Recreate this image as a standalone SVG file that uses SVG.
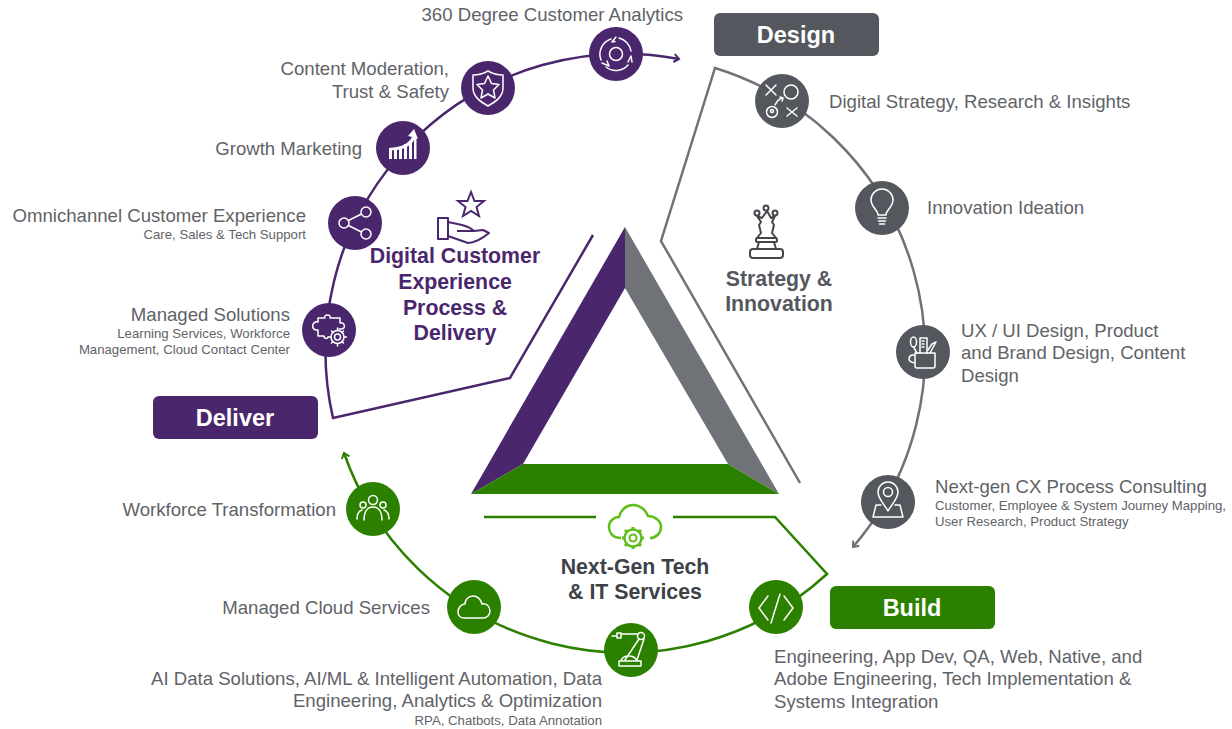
<svg xmlns="http://www.w3.org/2000/svg" width="1232" height="729" viewBox="0 0 1232 729">
<style>
text{font-family:"Liberation Sans",Arial,sans-serif;fill:#5f6368}
.l{font-size:18.6px}
.s{font-size:13.2px}
.e{text-anchor:end}
.m{text-anchor:middle}
.h{font-size:21.3px;font-weight:700}
.b{font-size:23.5px;font-weight:700;fill:#fff;text-anchor:middle}
.c{fill:none;stroke-width:2.5}
.i{fill:none;stroke:#fff;stroke-width:1.5;stroke-linejoin:round;stroke-linecap:round}
.pu{fill:#4a276d}.gr{fill:#54585e}.gn{fill:#2b8000}
</style>
<defs>
<marker id="ap" markerWidth="9" markerHeight="10" refX="7" refY="5" orient="auto" markerUnits="userSpaceOnUse"><path d="M2 1L7 5L2 9" fill="none" stroke="#4a276d" stroke-width="2"/></marker>
<marker id="ag" markerWidth="9" markerHeight="10" refX="7" refY="5" orient="auto" markerUnits="userSpaceOnUse"><path d="M2 1L7 5L2 9" fill="none" stroke="#6f7277" stroke-width="2"/></marker>
<marker id="an" markerWidth="9" markerHeight="10" refX="7" refY="5" orient="auto" markerUnits="userSpaceOnUse"><path d="M2 1L7 5L2 9" fill="none" stroke="#2b8000" stroke-width="2"/></marker>
</defs>
<g id="connectors">
<path class="c" stroke="#4a276d" marker-end="url(#ap)" d="M593 235L510 378L333 418A298 298 0 0 1 679 59"/>
<path class="c" stroke="#6f7277" marker-end="url(#ag)" d="M800 483L661 241L715 68A298 298 0 0 1 853 547"/>
<path class="c" stroke="#2b8000" d="M484 517H596"/>
<path class="c" stroke="#2b8000" marker-end="url(#an)" d="M673 517H775L827 574A298 298 0 0 1 344 453"/>
</g>
<g id="triangle">
<path fill="#4a276d" d="M625 227V288L523 464L471 494Z"/>
<path fill="#6f7277" d="M625 227V288L728 464L779 494Z"/>
<path fill="#2b8000" d="M523 464H728L779 494H471Z"/>
</g>
<g id="node-360">
<circle class="pu" cx="616" cy="54" r="27"/>
<g class="i" transform="translate(616 54)"><circle r="6.500"/><path d="M-5 -15A16 16 0 0 0 -15 6M-10 13A16 16 0 0 0 12 11M15 -3A16 16 0 0 0 3 -16"/><path d="M0 -17L-4 -12L-1 -12.500M-14 9L-7 12L-9 7M12 8L15 2L16 8"/></g>
<text class="l e" x="683" y="21">360 Degree Customer Analytics</text>
</g>
<g id="node-content">
<circle class="pu" cx="488" cy="88" r="27"/>
<g class="i" transform="translate(488 88)"><path d="M0 -17C5 -14 11 -13 15 -13V0C15 9 7 14 0 18C-7 14 -15 9 -15 0V-13C-11 -13 -5 -14 0 -17Z"/><path d="M0 -12L3.500 -4.500L11 -3.500L5.500 2L7 10L0 6L-7 10L-5.500 2L-11 -3.500L-3.500 -4.500Z"/></g>
<text class="l e" x="449" y="75">Content Moderation,</text>
<text class="l e" x="449" y="98">Trust &amp; Safety</text>
</g>
<g id="node-growth">
<circle class="pu" cx="403" cy="148" r="27"/>
<g transform="translate(403 148)" fill="#fff"><path d="M-14 11h3v-9h-3zM-9 11h3v-10h-3zM-4 11h3v-12h-3zM1 11h3v-15h-3zM6 11h3v-18h-3zM11 11h2.500v-22h-2.500z"/><path d="M-14 0C0 -1 6 -5 9 -11L5 -12L11 -19L15 -9L12 -10C9 -2 0 3 -14 2Z"/></g>
<text class="l e" x="362" y="155">Growth Marketing</text>
</g>
<g id="node-omni">
<circle class="pu" cx="355" cy="223" r="27"/>
<g class="i" transform="translate(355 223)"><circle cx="-11" cy="0" r="5"/><circle cx="11" cy="-11" r="5"/><circle cx="11" cy="11" r="5"/><path d="M-6.500 -2.500L6.500 -9M-6.500 2.500L6.500 9"/></g>
<text class="l e" x="306" y="222">Omnichannel Customer Experience</text>
<text class="s e" x="306" y="239">Care, Sales &amp; Tech Support</text>
</g>
<g id="node-managed">
<circle class="pu" cx="329" cy="330" r="27"/>
<g class="i" transform="translate(329 330)"><path d="M-11 -12H-4C-6 -16 3 -16 1 -12H11V-7C15 -9 18 -1 12 -1H10M-11 -12V-8C-17 -10 -19 1 -11 0V6H-5C-5 9 -1 9 -1 7"/><circle cx="8.500" cy="7" r="3"/><circle cx="8.500" cy="7" r="6.500"/><path d="M8.500 -2V.5M8.500 13.500V16M-.5 7H2M15 7H17.500M2.500 1L4 2.500M13 11.500L14.500 13M2.500 13L4 11.500M13 2.500L14.500 1"/></g>
<text class="l e" x="290" y="321">Managed Solutions</text>
<text class="s e" x="290" y="338">Learning Services, Workforce</text>
<text class="s e" x="290" y="354">Management, Cloud Contact Center</text>
</g>
<g id="label-digital">
<path d="M471 192L474.500 201L484 201L476.500 207L479 216L471 211L463 216L465.500 207L458 201L467.500 201Z" fill="none" stroke="#4a276d" stroke-width="2"/>
<path d="M438 218H448V239H438ZM448 222L462 225C469 227 472 229 474 231L483 230L489 233C483 238 474 243 468 243L448 236M457 231H474" fill="none" stroke="#4a276d" stroke-width="2" stroke-linejoin="round"/>
<text class="h m" style="fill:#4a276d" x="455" y="263">Digital Customer</text>
<text class="h m" style="fill:#4a276d" x="455" y="289">Experience</text>
<text class="h m" style="fill:#4a276d" x="455" y="315">Process &amp;</text>
<text class="h m" style="fill:#4a276d" x="455" y="340">Delivery</text>
</g>
<g id="deliver"><rect class="pu" x="153" y="396" width="165" height="43" rx="6"/><text class="b" x="235" y="426">Deliver</text></g>
<g id="design"><rect class="gr" x="714" y="13" width="165" height="43" rx="6"/><text class="b" x="796" y="43">Design</text></g>
<g id="build"><rect class="gn" x="830" y="586" width="165" height="43" rx="6"/><text class="b" x="912" y="616">Build</text></g>
<g id="node-strategy">
<circle class="gr" cx="782" cy="101" r="27"/>
<g class="i" transform="translate(782 101)"><path d="M-16 -16L-6 -6M-6 -16L-16 -6M5 7L15 15M15 7L5 15"/><circle cx="9" cy="-9" r="7"/><circle cx="-10" cy="11" r="5.500"/><circle cx="-10" cy="10" r="1.500"/><path d="M-7 4C-5 -1 -1 -3 1 -3M-2 -4L1 -3L0 0"/></g>
<text class="l" x="829" y="108">Digital Strategy, Research &amp; Insights</text>
</g>
<g id="node-innovation">
<circle class="gr" cx="882" cy="208" r="27"/>
<g class="i" transform="translate(882 208)"><path d="M-4 7C-4 2 -11 -1 -11 -8A11 11 0 0 1 11 -8C11 -1 4 2 4 7Z"/><path d="M-4 10H4M-3.500 13H3.500M-2.500 16H2.500"/></g>
<text class="l" x="927" y="214">Innovation Ideation</text>
</g>
<g id="node-ux">
<circle class="gr" cx="923" cy="352" r="27"/>
<g class="i" transform="translate(923 352)"><path d="M-8 1H12V14Q12 16 10 16H-6Q-8 16 -8 14ZM-8 3H-11Q-14 4 -14 7Q-14 10 -8 11"/><path d="M-3 1V-14H4V1M-1 -11H1M-1 -8H1M-1 -5H1"/><ellipse cx="-9.500" cy="-10" rx="3" ry="5"/><path d="M-9.500 -5L-6 1M7 1L13 -10L9 -8L5 -2"/></g>
<text class="l" x="961" y="337">UX / UI Design, Product</text>
<text class="l" x="961" y="359">and Brand Design, Content</text>
<text class="l" x="961" y="382">Design</text>
</g>
<g id="node-nextgen">
<circle class="gr" cx="888" cy="502" r="27"/>
<g class="i" transform="translate(888 502)"><path d="M0 9C-3 3 -10 -3 -10 -10A10 10 0 0 1 10 -10C10 -3 3 3 0 9Z"/><circle cy="-10" r="4.500"/><path d="M-7 3H-12L-15 15H15L12 3H7"/></g>
<text class="l" x="935" y="493">Next-gen CX Process Consulting</text>
<text class="s" x="935" y="510">Customer, Employee &amp; System Journey Mapping,</text>
<text class="s" x="935" y="526">User Research, Product Strategy</text>
</g>
<g id="node-code">
<circle class="gn" cx="776" cy="607" r="27"/>
<g class="i" transform="translate(776 607)"><path d="M-8 -11L-17 1L-8 13M8 -11L17 1L8 13M4 -13L-5 16"/></g>
<text class="l" x="774" y="663">Engineering, App Dev, QA, Web, Native, and</text>
<text class="l" x="774" y="685">Adobe Engineering, Tech Implementation &amp;</text>
<text class="l" x="774" y="708">Systems Integration</text>
</g>
<g id="node-robot">
<circle class="gn" cx="631" cy="650" r="27"/>
<g class="i" transform="translate(631 650)"><circle cx="10" cy="-14" r="3.500"/><path d="M7 -16H-10M-14 -14H-19M-14 -17H-10V-12H-14ZM8 -11L-6 10M13 -11L6 10M-12 16H10V11H-12ZM-10 11Q-9 6 -2 6Q4 6 6 11"/></g>
<text class="l e" x="602" y="685">AI Data Solutions, AI/ML &amp; Intelligent Automation, Data</text>
<text class="l e" x="602" y="707">Engineering, Analytics &amp; Optimization</text>
<text class="s e" x="602" y="725">RPA, Chatbots, Data Annotation</text>
</g>
<g id="node-cloud">
<circle class="gn" cx="474" cy="607" r="27"/>
<g class="i" transform="translate(474 607)"><path d="M-10 11H9C13 11 16 8 16 4C16 -1 12 -4 8 -3C7 -8 3 -11 -1 -11C-6 -11 -9 -7 -9 -3C-13 -3 -16 1 -16 5C-16 9 -13 11 -10 11Z"/></g>
<text class="l e" x="430" y="614">Managed Cloud Services</text>
</g>
<g id="node-workforce">
<circle class="gn" cx="373" cy="509" r="27"/>
<g class="i" transform="translate(373 509)"><circle cy="-9" r="4.500"/><circle cx="-10" cy="-4" r="3"/><circle cx="10" cy="-4" r="3"/><path d="M-9 11C-9 2 -5 -2 0 -2C5 -2 9 2 9 11M-16 10C-16 5 -14 2 -11 1M16 10C16 5 14 2 11 1"/></g>
<text class="l e" x="336" y="516">Workforce Transformation</text>
</g>
<g id="label-nextgen">
<path d="M621 538C612 538 609 532 609 527C609 521 614 517 619 517C621 509 627 505 633 505C640 505 646 510 648 516C655 516 661 521 661 527C661 533 656 538 650 538" fill="none" stroke="#5fbf1a" stroke-width="2.500"/>
<circle cx="633" cy="538" r="3.500" fill="none" stroke="#5fbf1a" stroke-width="2"/>
<circle cx="633" cy="538" r="8.500" fill="none" stroke="#5fbf1a" stroke-width="2.500"/>
<path d="M633 527V530M633 546V549M622 538H625M641 538H644M625 530L627 532M639 544L641 546M625 546L627 544M639 532L641 530" stroke="#5fbf1a" stroke-width="3"/>
<text class="h m" style="fill:#3e4146" x="635" y="574">Next-Gen Tech</text>
<text class="h m" style="fill:#3e4146" x="635" y="599">&amp; IT Services</text>
</g>
<g id="label-strategy">
<g fill="none" stroke="#43464b" stroke-width="2" stroke-linejoin="round">
<circle cx="766" cy="208" r="2.500"/><circle cx="757" cy="213" r="2.500"/><circle cx="775" cy="213" r="2.500"/>
<path d="M757 216L761 222L759 225L761 233L757 238H776L772 233L774 225L772 222L775 216L771 218L767 211L762 218Z"/>
<rect x="756" y="238" width="21" height="4" rx="1.500"/>
<path d="M759 242L757 249M774 242L776 249"/>
<rect x="750" y="249" width="33" height="9" rx="3"/>
</g>
<text class="h m" style="fill:#54585e" x="779" y="286">Strategy &amp;</text>
<text class="h m" style="fill:#54585e" x="779" y="311">Innovation</text>
</g>
</svg>
